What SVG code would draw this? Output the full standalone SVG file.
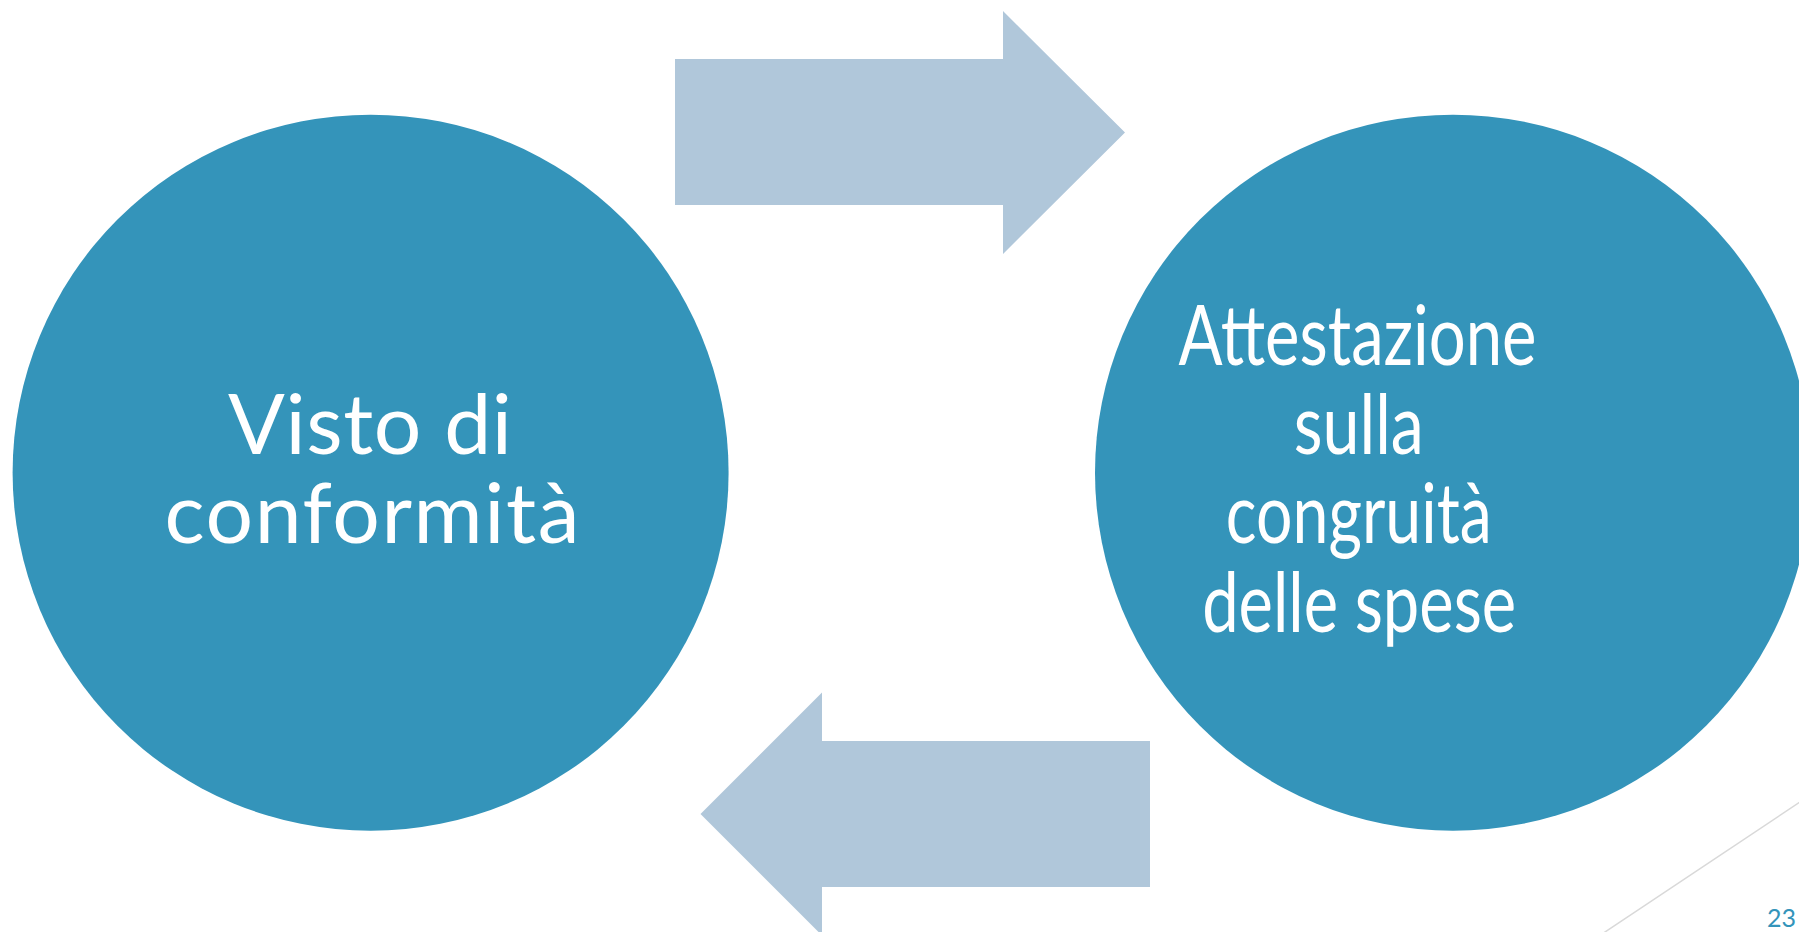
<svg xmlns="http://www.w3.org/2000/svg" width="1799" height="932" viewBox="0 0 1799 932">
<style>
.node{fill:#3494BA}
.arrow{fill:#B0C7DA}
.lbl{fill:#FFFFFF;font-family:Lato,"Noto Sans",sans-serif;font-size:84px;text-anchor:middle}
.pg{fill:#3494BA;font-family:Lato,"Noto Sans",sans-serif;font-size:25px;text-anchor:end}
</style>
<rect x="0" y="0" width="1799" height="932" fill="#FFFFFF"/>
<line x1="1830" y1="782" x2="1590" y2="942" stroke="#D9D9D9" stroke-width="1.5"/>
<g id="connectors">
<polygon class="arrow" points="675,59 1003,59 1003,11 1125,132.5 1003,254 1003,205 675,205"/>
<polygon class="arrow" points="1150,741 822,741 822,692.5 700.5,814 822,935.5 822,887 1150,887"/>
</g>
<g id="node-visto">
<circle class="node" cx="370.6" cy="472.7" r="358"/>
<text class="lbl"><tspan x="370" y="454" textLength="284" lengthAdjust="spacing">Visto di</tspan><tspan x="372" y="543.3" textLength="415" lengthAdjust="spacing">conformità</tspan></text>
</g>
<g id="node-attestazione">
<circle class="node" cx="1453" cy="472.7" r="358"/>
<text class="lbl"><tspan x="1357.5" y="365" textLength="358" lengthAdjust="spacingAndGlyphs">Attestazione</tspan><tspan x="1358.8" y="454" textLength="130" lengthAdjust="spacingAndGlyphs">sulla</tspan><tspan x="1358.8" y="543.3" textLength="266" lengthAdjust="spacingAndGlyphs">congruità</tspan><tspan x="1359.2" y="632.3" textLength="314" lengthAdjust="spacingAndGlyphs">delle spese</tspan></text>
</g>
<text class="pg" x="1796" y="927">23</text>
</svg>
